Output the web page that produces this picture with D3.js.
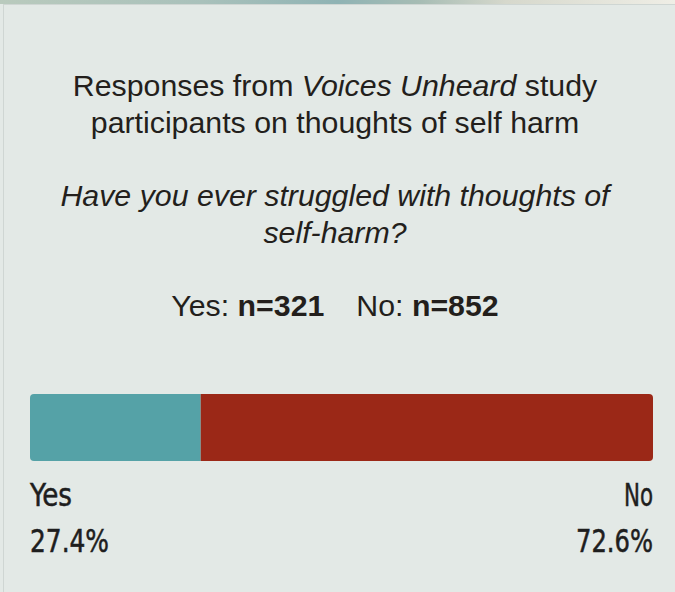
<!DOCTYPE html>
<html>
<head>
<meta charset="utf-8">
<script src="https://cdn.jsdelivr.net/npm/d3@7"></script>
<style>
  html, body { margin: 0; padding: 0; background: #e3e9e6; }
  svg { display: block; }
</style>
</head>
<body>
<svg id="chart" width="675" height="592"></svg>
<script>
// Survey answers
const categories = ["Yes", "No"];
const counts = [321, 852];
const percents = [27.4, 72.6];

const titleLines = [
  [{ t: "Responses from " }, { t: "Voices Unheard", i: true }, { t: " study" }],
  [{ t: "participants on thoughts of self harm" }]
];
const questionLines = ["Have you ever struggled with thoughts of", "self-harm?"];

const colors = ["#55a2a7", "#9b2817"];
const W = 675, H = 592;
const svg = d3.select("#chart");

// Header strip and panel
const defs = svg.append("defs");
const grad = defs.append("linearGradient").attr("id", "strip");
[[0, "#b9cabd"], [0.3, "#a9c1bb"], [0.5, "#8fb3b4"], [0.62, "#a6bcb4"], [0.75, "#d6d8cc"], [1, "#efeee6"]]
  .forEach(([o, c]) => grad.append("stop").attr("offset", o).attr("stop-color", c));
svg.append("rect").attr("x", 0).attr("y", 0).attr("width", W).attr("height", 4).attr("fill", "url(#strip)");
svg.append("rect").attr("x", 3.5).attr("y", 4.5).attr("width", W).attr("height", H)
  .attr("fill", "#e3e9e6").attr("stroke", "#cfd6d3").attr("stroke-width", 1);

const cx = 335;
const font = "'Liberation Sans', Arial, Helvetica, sans-serif";
const ink = "#231f1c";
const fs = 30.3;

// Title
titleLines.forEach((parts, k) => {
  const t = svg.append("text").attr("x", cx).attr("y", 96 + k * 37)
    .attr("text-anchor", "middle").attr("font-family", font).attr("font-size", fs).attr("fill", ink);
  parts.forEach(p => t.append("tspan").attr("font-style", p.i ? "italic" : "normal").text(p.t));
});

// Question
questionLines.forEach((q, k) => {
  svg.append("text").attr("x", cx).attr("y", 206 + k * 37)
    .attr("text-anchor", "middle").attr("font-family", font).attr("font-size", fs)
    .attr("font-style", "italic").attr("fill", ink).text(q);
});

// Sample sizes
const nLine = svg.append("text").attr("x", cx).attr("y", 316)
  .attr("text-anchor", "middle").attr("font-family", font).attr("font-size", fs).attr("fill", ink);
categories.forEach((c, i) => {
  nLine.append("tspan").attr("dx", i ? 32 : 0).text(c + ": ");
  nLine.append("tspan").attr("font-weight", "bold").text("n=" + counts[i]);
});

// Stacked bar
const x = d3.scaleLinear().domain([0, 100]).range([30, 653]);
const y0 = 394, bh = 67;
defs.append("clipPath").attr("id", "barclip").append("rect")
  .attr("x", x(0)).attr("y", y0).attr("width", x(100) - x(0)).attr("height", bh).attr("rx", 4);

const stacked = percents.map((p, i) => ({ c: categories[i], p, start: d3.sum(percents.slice(0, i)) }));
svg.append("g").attr("clip-path", "url(#barclip)").selectAll("rect").data(stacked).join("rect")
  .attr("x", d => x(d.start)).attr("y", y0)
  .attr("width", d => x(d.start + d.p) - x(d.start)).attr("height", bh)
  .attr("fill", (d, i) => colors[i]);

// End labels in a tall condensed face
const labelW = [[42, 79], [29, 77]];
stacked.forEach((d, i) => {
  const ax = i === 0 ? x(0) : x(100);
  const anchor = i === 0 ? "start" : "end";
  [[d.c, 506, labelW[i][0]], [d.p + "%", 552, labelW[i][1]]].forEach(([txt, yy, w]) => {
    svg.append("text").attr("x", ax).attr("y", yy).attr("text-anchor", anchor)
      .attr("font-family", "'DejaVu Sans', sans-serif").style("font-stretch", "condensed")
      .attr("font-size", 32).attr("font-weight", 500).attr("fill", "#1e1e1e")
      .attr("stroke", "#1e1e1e").attr("stroke-width", 0.5)
      .attr("textLength", w).attr("lengthAdjust", "spacingAndGlyphs").text(txt);
  });
});
</script>
</body>
</html>
